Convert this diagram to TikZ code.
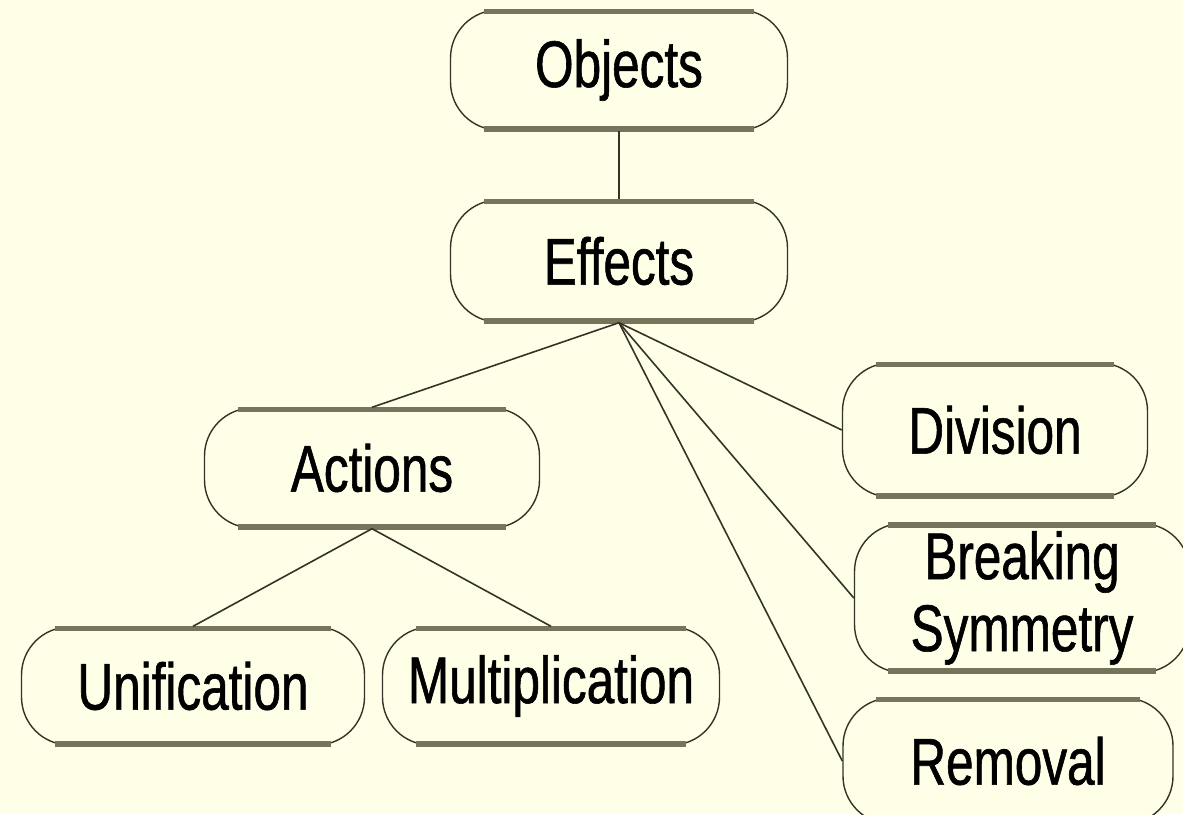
\documentclass[tikz,border=0pt]{standalone}
\usepackage{fontspec}
\setmainfont[FakeStretch=0.75,FakeBold=0.9]{Liberation Sans}
\usepackage{xcolor}
\usetikzlibrary{calc}
\definecolor{cfondo}{HTML}{FFFFE8}
\definecolor{cborde}{HTML}{333326}
\definecolor{cbarra}{HTML}{76745A}
\definecolor{clinea}{HTML}{333328}
\tikzset{
  nodo/.style={rectangle, rounded corners=24pt, draw=cborde, fill=cfondo,
    line width=0.7pt, inner sep=0pt, align=center,
    font=\fontsize{33}{36}\selectfont},
  barra/.style={draw=cbarra, line width=2.8pt},
  linea/.style={draw=clinea, line width=0.8pt},
}

\begin{document}
\begin{tikzpicture}[x=0.5pt,y=-0.5pt]
  \useasboundingbox (0,0) rectangle (1183,814);
  \clip (0,0) rectangle (1183,814);
  \fill[cfondo] (0,0) rectangle (1183,814);
  \path
    (619,70)   coordinate (pobj)
    (619,261)  coordinate (peff)
    (372,468)  coordinate (pact)
    (193,686)  coordinate (puni)
    (551,686)  coordinate (pmul)
    (995,430)  coordinate (pdiv)
    (1022,598) coordinate (pbrk)
    (1008,761) coordinate (prem);
  \node[nodo, minimum width=168.5pt, minimum height=60pt] (obj) at (pobj) {Objects};
  \node[nodo, minimum width=168.5pt, minimum height=61pt] (eff) at (peff) {Effects};
  \node[nodo, minimum width=167.5pt, minimum height=60pt] (act) at (pact) {Actions};
  \node[nodo, minimum width=171.5pt, minimum height=59pt] (uni) at (puni) {Unification};
  \node[nodo, minimum width=168.5pt, minimum height=59pt] (mul) at (pmul) {Multiplication};
  \node[nodo, minimum width=152.5pt, minimum height=67pt] (div) at (pdiv) {Division};
  \node[nodo, minimum width=167.5pt, minimum height=74.5pt] (brk) at (pbrk)
    {\fontsize{33}{34}\selectfont Breaking\\Symmetry};
  \node[nodo, minimum width=165pt, minimum height=63pt] (rem) at (prem) {Removal};
  \foreach \n in {obj,eff,act,uni,mul,div,brk,rem} {
    \draw[barra] ($(\n.north west)+(17pt,-1pt)$) -- ($(\n.north east)+(-17pt,-1pt)$);
    \draw[barra] ($(\n.south west)+(17pt,1pt)$) -- ($(\n.south east)+(-17pt,1pt)$);
  }
  \draw[linea] (obj.south) -- (eff.north);
  \draw[linea] (eff.south) -- (act.north);
  \draw[linea] (eff.south) -- (div.west);
  \draw[linea] (eff.south) -- (brk.west);
  \draw[linea] (eff.south) -- (rem.west);
  \draw[linea] (act.south) -- (uni.north);
  \draw[linea] (act.south) -- (mul.north);
\end{tikzpicture}
\end{document}
